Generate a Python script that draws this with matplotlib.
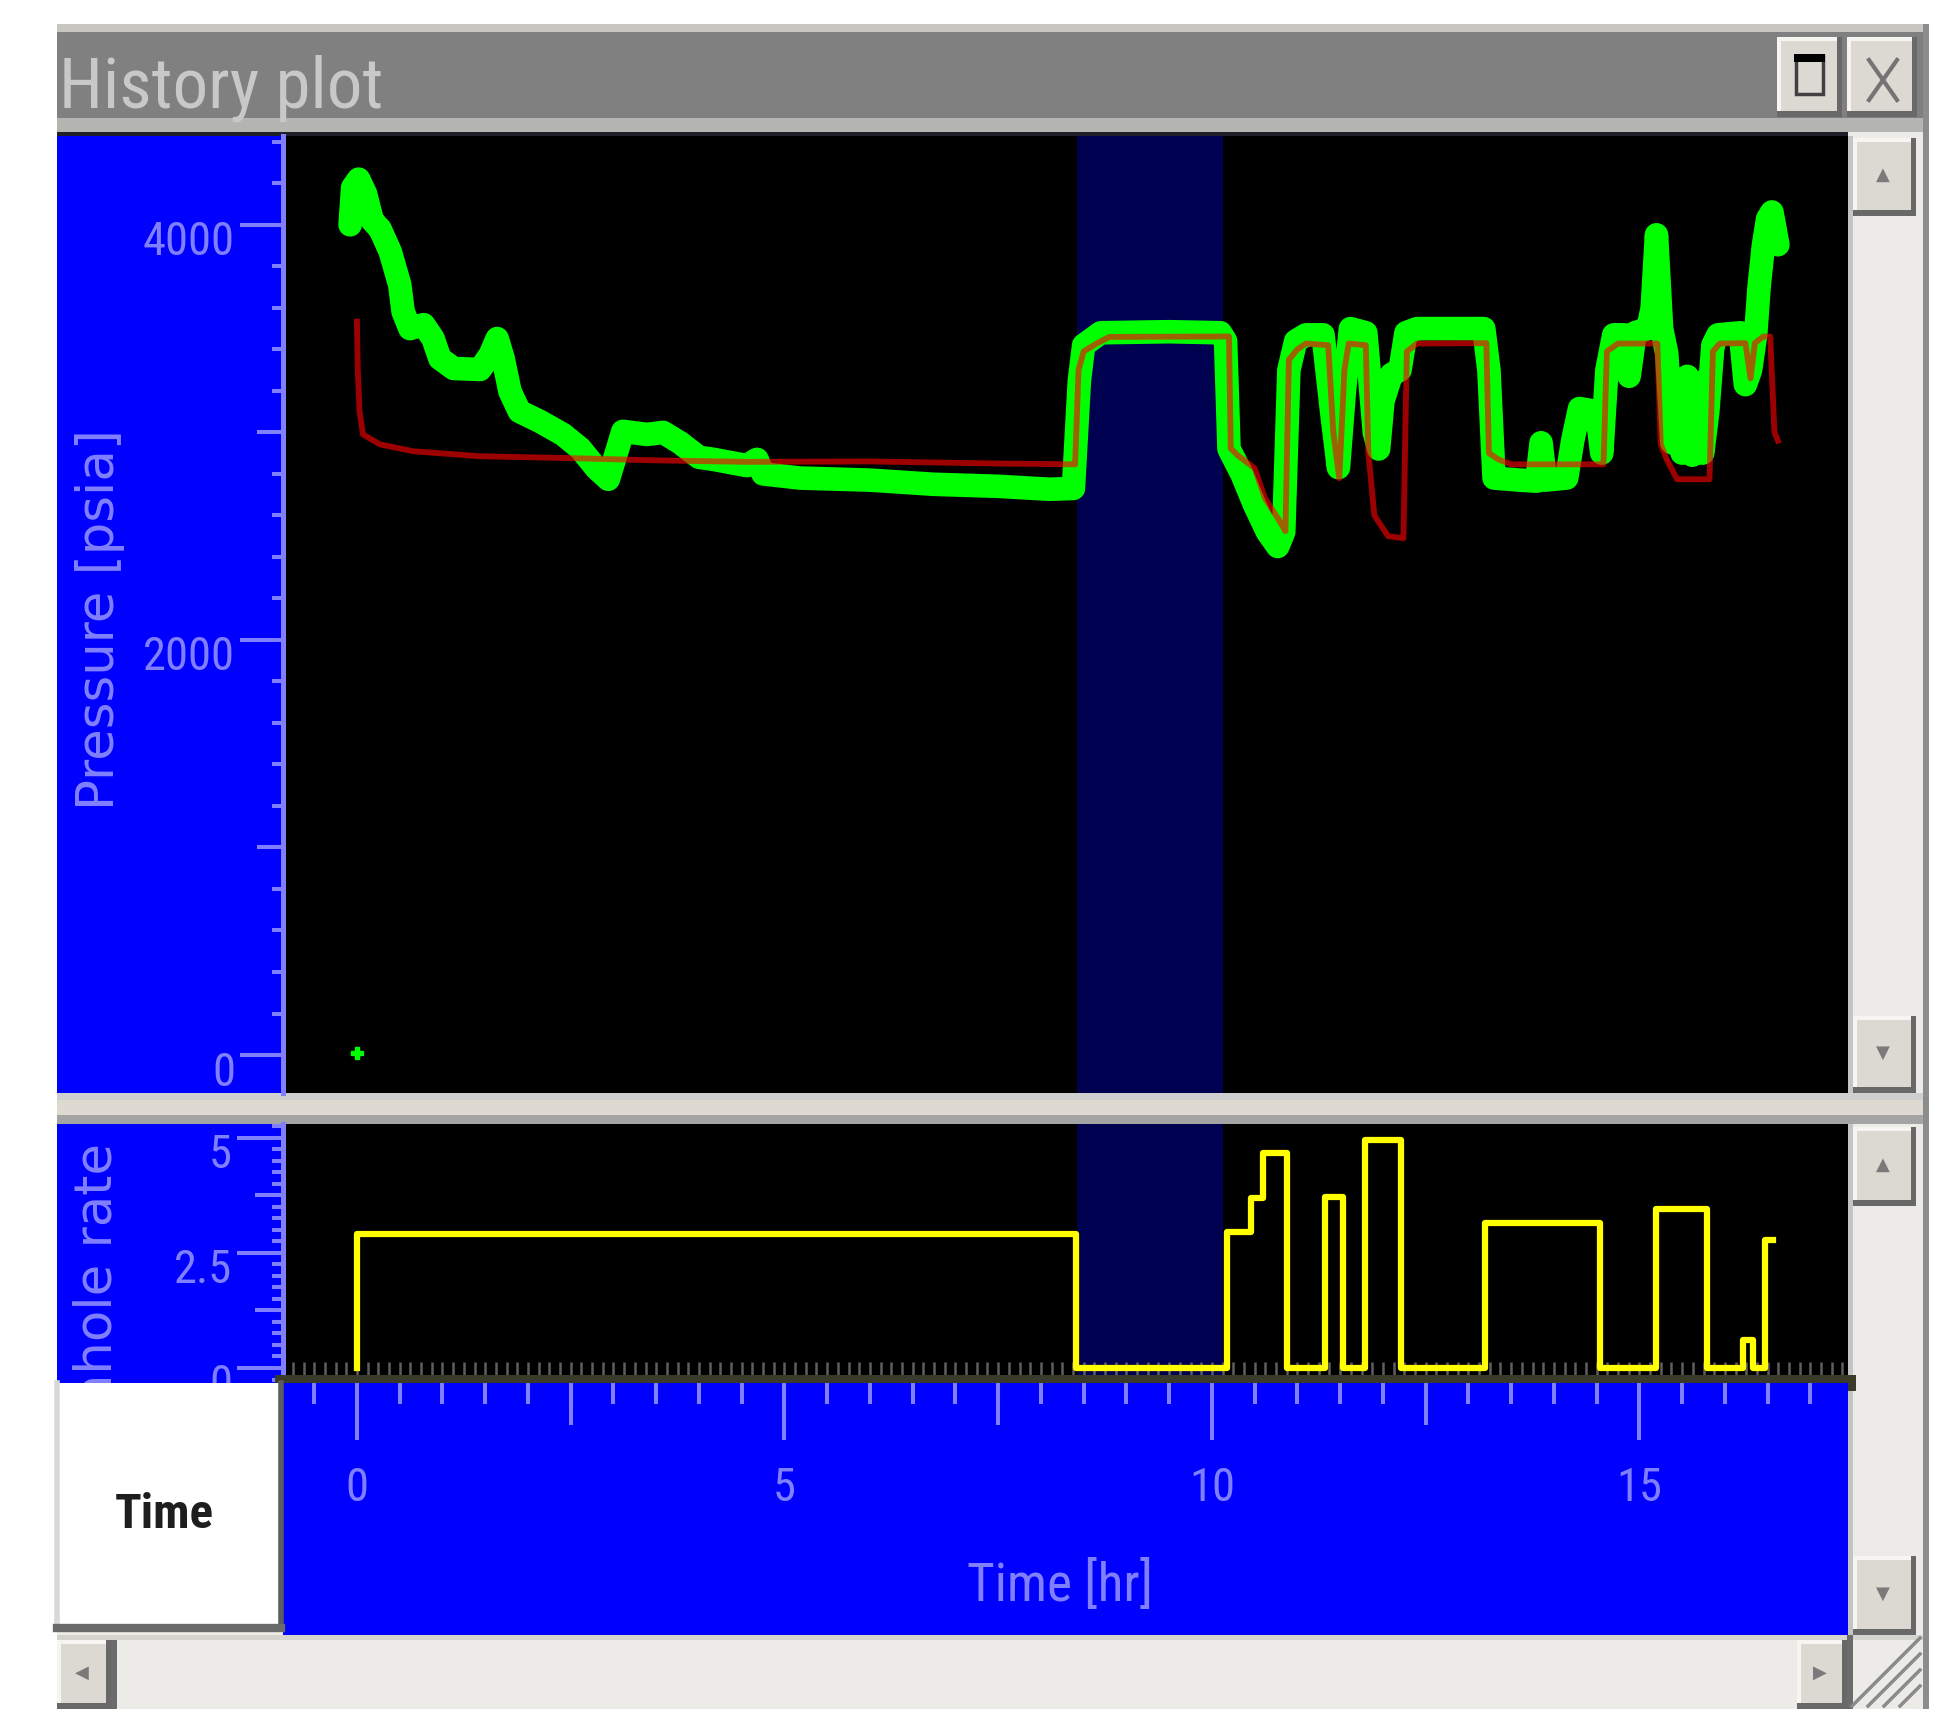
import matplotlib
matplotlib.use('Agg')
import matplotlib.pyplot as plt
from matplotlib.patches import Rectangle
from matplotlib.ticker import MultipleLocator
from matplotlib.transforms import ScaledTranslation
from matplotlib import font_manager as fm

W, H = 1936, 1709

gauge_t = [-0.08, -0.05, 0.02, 0.10, 0.18, 0.27, 0.39, 0.50, 0.54, 0.62,
           0.78, 0.89, 0.97, 1.13, 1.44, 1.56, 1.64, 1.71, 1.79, 1.90,
           2.14, 2.41, 2.61, 2.80, 2.94, 3.04, 3.11, 3.39, 3.58, 3.78,
           4.00, 4.17, 4.56, 4.68, 4.75, 5.18, 6.00, 6.74, 7.50, 8.10,
           8.38, 8.45, 8.50, 8.70, 9.50, 10.10, 10.16, 10.20, 10.35, 10.50,
           10.65, 10.77, 10.84, 10.90, 10.98, 11.10, 11.30, 11.40, 11.48, 11.55,
           11.62, 11.80, 11.90, 11.95, 12.00, 12.10, 12.20, 12.27, 12.40, 13.18,
           13.24, 13.30, 13.60, 13.80, 13.85, 13.90, 14.15, 14.22, 14.30, 14.50,
           14.56, 14.62, 14.70, 14.82, 14.88, 14.95, 15.10, 15.15, 15.20, 15.26,
           15.32, 15.38, 15.44, 15.50, 15.56, 15.62, 15.68, 15.74, 15.80, 15.86,
           15.92, 16.18, 16.24, 16.30, 16.36, 16.40, 16.45, 16.50, 16.55, 16.62]
gauge_p = [4000, 4180, 4220, 4150, 4020, 3980, 3870, 3712, 3582, 3500,
           3519, 3452, 3356, 3308, 3303, 3375, 3452, 3356, 3197, 3101,
           3053, 2990, 2923, 2827, 2774, 2909, 3005, 2990, 3000, 2950,
           2880, 2870, 2840, 2870, 2800, 2780, 2770, 2750, 2740, 2726,
           2730, 3250, 3420, 3480, 3485, 3480, 3440, 2920, 2800, 2650,
           2520, 2450, 2520, 3300, 3440, 3470, 3470, 3100, 2830, 3200,
           3500, 3480, 3000, 2920, 3150, 3280, 3300, 3480, 3500, 3500,
           3300, 2780, 2770, 2765, 2950, 2770, 2780, 2960, 3115, 3100,
           2900, 3300, 3470, 3470, 3270, 3480, 3500, 3600, 3952, 3500,
           3380, 2950, 3250, 2900, 3270, 2890, 3240, 2900, 3100, 3420,
           3470, 3480, 3230, 3300, 3470, 3700, 3900, 4029, 4062, 3904]
gauge_dot_t = [0.0]
gauge_dot_p = [10]

# simulated pressure (red)
model_t = [0.00, 0.01, 0.03, 0.07, 0.27, 0.66, 1.44, 2.60, 3.40, 4.55,
           6.00, 7.50, 8.40, 8.44, 8.50, 8.65, 8.80, 10.20, 10.22, 10.30,
           10.50, 10.62, 10.77, 10.86, 10.90, 11.00, 11.10, 11.36, 11.42, 11.49,
           11.55, 11.60, 11.80, 11.83, 11.90, 12.06, 12.24, 12.28, 12.40, 13.21,
           13.24, 13.35, 13.50, 14.58, 14.62, 14.75, 15.21, 15.25, 15.32, 15.44,
           15.82, 15.86, 15.94, 16.24, 16.30, 16.35, 16.45, 16.53, 16.58, 16.62]
model_p = [3534, 3300, 3101, 2990, 2942, 2909, 2885, 2875, 2866, 2858,
           2860, 2850, 2846, 3300, 3390, 3428, 3460, 3462, 2923, 2890,
           2827, 2683, 2587, 2524, 3350, 3400, 3428, 3420, 3000, 2779,
           3300, 3428, 3420, 2900, 2600, 2500, 2490, 3390, 3428, 3430,
           2900, 2870, 2846, 2846, 3390, 3428, 3428, 2942, 2870, 2774,
           2774, 3390, 3428, 3430, 3260, 3430, 3462, 3462, 3000, 2960]

# downhole rate (yellow step)
rate_t = [0.0, 0.0, 8.41, 10.18, 10.46, 10.60, 10.88, 11.32, 11.53, 11.79,
          12.21, 13.19, 14.54, 15.20, 15.79, 16.21, 16.33, 16.47, 16.56]
rate_q = [0.0, 2.9, 0.0, 2.95, 3.70, 4.67, 0.0, 3.72, 0.0, 4.96,
          0.0, 3.15, 0.0, 3.45, 0.0, 0.6, 0.0, 2.78, 2.78]

shade = (8.42, 10.13)
p_major = [0, 2000, 4000]
p_medium = [1000, 3000]
q_major = [0, 2.5, 5]
q_medium = [1.25, 3.75]
t_major = [0, 5, 10, 15]
t_medium = [2.5, 7.5, 12.5]
xlim = (-0.865, 17.44)

# pick a narrow face for the window's condensed lettering
avail = {f.name for f in fm.fontManager.ttflist}
narrow_pref = ['Liberation Sans Narrow', 'Arial Narrow', 'Roboto Condensed',
               'Archivo Narrow', 'PT Sans Narrow', 'Open Sans Condensed',
               'Fira Sans Condensed', 'IBM Plex Sans Condensed', 'Roboto', 'Liberation Sans']
NARROW = next((n for n in narrow_pref if n in avail), 'DejaVu Sans')
NFAM = [NARROW, 'DejaVu Sans']

BLUE = '#0000ff'
LBLUE = '#8080ff'
CHROME = '#ecebe7'

fig = plt.figure(figsize=(W / 100, H / 100), dpi=100, facecolor='white')
renderer = fig.canvas.get_renderer()


def box(x0, y0, x1, y1):
    return [x0 / W, 1 - y1 / H, (x1 - x0) / W, (y1 - y0) / H]


bg = fig.add_axes([0, 0, 1, 1])
bg.set_xlim(0, W)
bg.set_ylim(H, 0)
bg.axis('off')


def fit_size(s, target_px, weight='normal', base=40):
    # font size that gives the text the width it has in the screenshot
    t = bg.text(0, 0, s, fontsize=base, family=NFAM, weight=weight)
    w = t.get_window_extent(renderer=renderer).width
    t.remove()
    return base * target_px / w


fs_title = fit_size('History plot', 324)
fs_tick = fit_size('4000', 92)
fs_tlab = fit_size('Time [hr]', 186)
fs_box = fit_size('Time', 99, weight='bold')


def rect(x0, y0, x1, y1, color):
    bg.add_patch(Rectangle((x0, y0), x1 - x0, y1 - y0, facecolor=color, edgecolor='none'))


def button(x0, y0, x1, y1, glyph=None):
    rect(x0, y0, x1, y1, '#686868')
    rect(x0, y0, x1 - 5, y1 - 6, '#f6f5f2')
    rect(x0 + 4, y0 + 4, x1 - 5, y1 - 6, '#dcd9d2')
    if glyph:
        bg.text((x0 + x1) / 2 - 2, (y0 + y1) / 2 - 2, glyph, fontsize=13, color='#7a7a7a',
                ha='center', va='center')


# window chrome
rect(57, 24, 1923, 1709, CHROME)
rect(1923, 24, 1929, 1709, '#8c8c8c')
rect(57, 24, 1923, 32, '#c8c6c0')
rect(57, 32, 1923, 118, '#808080')
rect(57, 118, 1923, 132, '#b4b4b0')
rect(57, 132, 1848, 136, '#202028')
bg.text(59, 108, 'History plot', fontsize=fs_title, color='#c8c8c8', family=NFAM,
        ha='left', va='baseline')
button(1777, 37, 1842, 117)
bg.add_patch(Rectangle((1796, 56), 27, 38, fill=False, edgecolor='#404040', lw=2.5))
rect(1794, 54, 1825, 62, '#000000')
button(1847, 37, 1917, 117)
bg.plot([1869, 1897], [60, 100], color='#747474', lw=3)
bg.plot([1869, 1897], [100, 60], color='#747474', lw=3)

# left blue panel of the pressure plot
rect(57, 136, 281, 1093, BLUE)
bg.text(100, 620, 'Pressure [psia]', fontsize=37, color=LBLUE, rotation=90,
        ha='center', va='center')

# separator between the two plots
rect(57, 1093, 1923, 1100, '#cfcfcf')
rect(57, 1100, 1923, 1115, '#dedad2')
rect(57, 1115, 1923, 1124, '#a4a4a4')

# right scrollbars
rect(1848, 136, 1853, 1093, '#c4c4c4')
rect(1848, 1124, 1853, 1635, '#c4c4c4')
button(1853, 138, 1916, 216, '▲')
button(1853, 1016, 1916, 1093, '▼')
button(1853, 1127, 1916, 1206, '▲')
button(1853, 1556, 1916, 1635, '▼')

# bottom scrollbar
rect(57, 1635, 1923, 1640, '#d6d4ce')
button(57, 1640, 111, 1709, '◀')
rect(111, 1640, 117, 1709, '#6c6c6c')
button(1797, 1640, 1847, 1709, '▶')
rect(1847, 1635, 1853, 1709, '#6c6c6c')
for k in range(4):
    off = 16 * k
    bg.plot([1900 - off, 1920], [1706, 1686 - off], color='#8a8a8a', lw=2.5)

# lower left panel (clips the rotated label)
ax_lq = fig.add_axes(box(57, 1124, 281, 1383))
ax_lq.set_facecolor(BLUE)
ax_lq.set_xticks([])
ax_lq.set_yticks([])
for s in ax_lq.spines.values():
    s.set_visible(False)
ax_lq.text(0.18, 0.925, 'Downhole rate', transform=ax_lq.transAxes, fontsize=37,
           color=LBLUE, rotation=90, ha='center', va='top', clip_on=True)

# ---- pressure plot ----
ax_p = fig.add_axes(box(283, 136, 1848, 1093))
ax_p.set_facecolor('black')
ax_p.axvspan(*shade, color='#000050', lw=0)
ax_p.plot(gauge_t, gauge_p, color='#00ff00', lw=17, solid_joinstyle='round',
          solid_capstyle='round')
ax_p.plot(model_t, model_p, color='#ff0000', alpha=0.62, lw=4.2)
ax_p.plot(gauge_dot_t, gauge_dot_p, linestyle='none', marker='P', ms=9,
          color='#00ff00', mec='#00ff00')
ax_p.set_xlim(*xlim)
ax_p.set_ylim(-183, 4428)
ax_p.set_xticks([])
ax_p.set_yticks(p_major)
ax_p.yaxis.set_minor_locator(MultipleLocator(200))
ax_p.tick_params(axis='y', which='major', length=31, width=2.9, color=LBLUE, pad=3.6,
                 labelcolor=LBLUE, labelsize=fs_tick, labelfontfamily=NARROW)
ax_p.tick_params(axis='y', which='minor', length=8, width=2.9, color=LBLUE)
sec_p = ax_p.secondary_yaxis('left')
sec_p.set_yticks(p_medium)
sec_p.tick_params(length=19, width=2.9, color=LBLUE, labelleft=False)
sec_p.spines['left'].set_visible(False)
for name in ['top', 'right', 'bottom']:
    ax_p.spines[name].set_visible(False)
ax_p.spines['left'].set_color(LBLUE)
ax_p.spines['left'].set_linewidth(3.6)

# ---- rate plot ----
ax_q = fig.add_axes(box(283, 1124, 1848, 1383))
ax_q.set_facecolor('black')
ax_q.axvspan(*shade, color='#000050', lw=0)
ax_q.step(rate_t, rate_q, where='post', color='#ffff00', lw=4.5, zorder=3)
ax_q.set_xlim(*xlim)
ax_q.set_ylim(-0.326, 5.30)
ax_q.set_yticks(q_major)
ax_q.set_yticklabels(['0', '2.5', '5'])
ax_q.yaxis.set_minor_locator(MultipleLocator(0.25))
ax_q.tick_params(axis='y', which='major', length=33, width=2.9, color=LBLUE, pad=3.6,
                 labelcolor=LBLUE, labelsize=fs_tick, labelfontfamily=NARROW)
ax_q.tick_params(axis='y', which='minor', length=8, width=2.9, color=LBLUE)
sec_q = ax_q.secondary_yaxis('left')
sec_q.set_yticks(q_medium)
sec_q.tick_params(length=20, width=2.9, color=LBLUE, labelleft=False)
sec_q.spines['left'].set_visible(False)
ax_q.xaxis.set_major_locator(MultipleLocator(0.125))
ax_q.tick_params(axis='x', which='major', direction='in', length=15, width=1.8,
                 color='#5e5e5e', labelbottom=False)
for name in ['top', 'right']:
    ax_q.spines[name].set_visible(False)
ax_q.spines['left'].set_color(LBLUE)
ax_q.spines['left'].set_linewidth(3.6)
ax_q.spines['bottom'].set_color('#3a3a2a')
ax_q.spines['bottom'].set_linewidth(11.5)
ax_q.spines['bottom'].set_zorder(2.6)

# shift the y tick labels a little below their ticks, as in the screenshot
for ax in (ax_p, ax_q):
    for tick in ax.yaxis.get_major_ticks():
        tick.label1.set_transform(tick.label1.get_transform()
                                  + ScaledTranslation(0, -0.13, fig.dpi_scale_trans))

# ---- time axis panel ----
ax_t = fig.add_axes(box(283, 1383, 1848, 1635))
ax_t.set_facecolor(BLUE)
ax_t.set_xlim(*xlim)
ax_t.set_ylim(0, 1)
ax_t.set_yticks([])
for s in ax_t.spines.values():
    s.set_visible(False)
ax_t.xaxis.tick_top()
ax_t.set_xticks(t_major)
ax_t.xaxis.set_minor_locator(MultipleLocator(0.5))
ax_t.tick_params(axis='x', which='major', direction='in', length=41, width=2.9,
                 color=LBLUE, labeltop=False, labelbottom=False)
ax_t.tick_params(axis='x', which='minor', direction='in', length=15, width=2.9,
                 color=LBLUE)
sec_t = ax_t.secondary_xaxis('top')
sec_t.set_xticks(t_medium)
sec_t.tick_params(direction='in', length=30, width=2.9, color=LBLUE, labeltop=False)
sec_t.spines['top'].set_visible(False)
for t in t_major:
    ax_t.text(t, 0.583, str(t), fontsize=fs_tick, color=LBLUE, family=NFAM,
              ha='center', va='center')
ax_t.text(0.4965, 0.194, 'Time [hr]', transform=ax_t.transAxes, fontsize=fs_tlab,
          color=LBLUE, family=NFAM, ha='center', va='center')

# ---- white "Time" box ----
ax_w = fig.add_axes(box(57, 1383, 281, 1628))
ax_w.set_facecolor('white')
ax_w.set_xticks([])
ax_w.set_yticks([])
ax_w.spines['top'].set_visible(False)
ax_w.spines['left'].set_color('#d8d8d8')
ax_w.spines['left'].set_linewidth(4)
ax_w.spines['right'].set_color('#5c5c5c')
ax_w.spines['right'].set_linewidth(4)
ax_w.spines['bottom'].set_color('#6a6a6a')
ax_w.spines['bottom'].set_linewidth(6)
ax_w.text(0.48, 0.46, 'Time', transform=ax_w.transAxes, fontsize=fs_box, color='#1e1e1e',
          family=NFAM, weight='bold', ha='center', va='center')

fig.savefig('out.png', dpi=100, facecolor='white')
